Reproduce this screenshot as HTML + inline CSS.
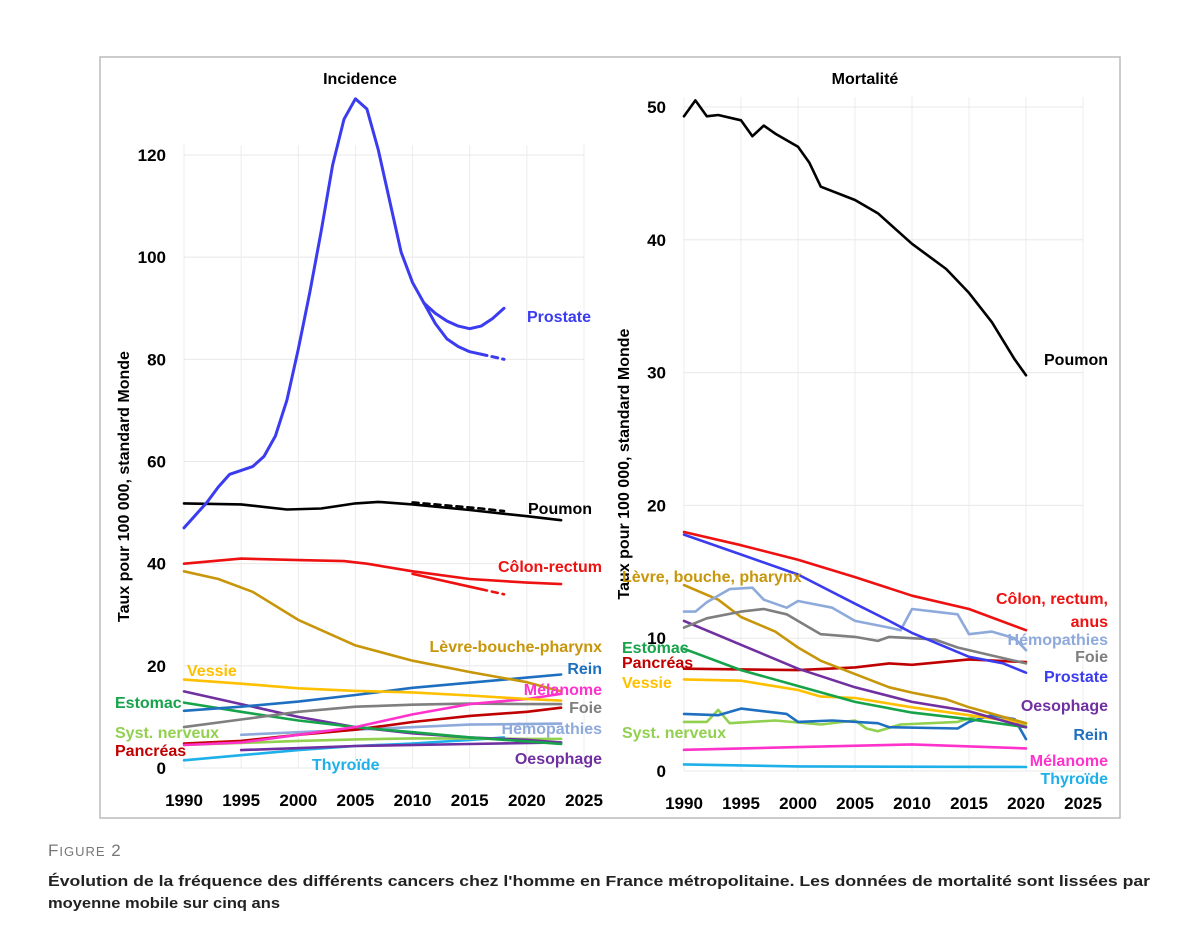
<!DOCTYPE html>
<html><head><meta charset="utf-8"><style>
body{margin:0;background:#fff;}
svg{display:block;font-family:"Liberation Sans",sans-serif;}
</style></head><body>
<svg id="fig" width="1200" height="938" viewBox="0 0 1200 938">
<rect x="100" y="57" width="1020" height="761" fill="#fff" stroke="#bbb" stroke-width="1.5"/>
<g id="left"></g>
<g id="right"></g>
<text x="48" y="856" font-size="17" fill="#777" letter-spacing="1">F<tspan font-size="13">IGURE</tspan> 2</text>
<text x="48" y="886" font-size="15" font-weight="bold" fill="#222" textLength="1102" lengthAdjust="spacingAndGlyphs">Évolution de la fréquence des différents cancers chez l'homme en France métropolitaine. Les données de mortalité sont lissées par</text>
<text x="48" y="908" font-size="15" font-weight="bold" fill="#222" textLength="232" lengthAdjust="spacingAndGlyphs">moyenne mobile sur cinq ans</text>
</svg>
<script>
// ---- Incidence data ----
const incYears = [1990,1992,1993,1994,1996,1997,1998,1999,2000,2001,2002,2003,2004,2005,2006,2007,2008,2009,2010,2011];
const incProstate = [47,52,55,57.5,59,61,65,72,82,93,105,118,127,131,129,121,111,101,95,91];
const incProstateAYears = [2011,2012,2013,2014,2015,2016,2017,2018];
const incProstateA = [91,89,87.5,86.5,86,86.5,88,90];
const incProstateBYears = [2011,2012,2013,2014,2015,2016];
const incProstateB = [91,87,84,82.5,81.5,81];
const incProstateBDashYears = [2016,2018];
const incProstateBDash = [81,80];
const incYears5 = [1990,1995,2000,2005,2010,2015,2020,2023];
const incPoumonYears = [1990,1995,1999,2002,2005,2007,2010,2015,2020,2023];
const incPoumon = [51.8,51.6,50.6,50.8,51.8,52.1,51.6,50.5,49.3,48.5];
const incPoumonDashYears = [2010,2016,2018];
const incPoumonDash = [52,50.8,50.3];
const incColonYears = [1990,1995,2000,2004,2006,2010,2015,2020,2023];
const incColon = [40,41,40.7,40.5,40,38.5,37,36.3,36];
const incColonBYears = [2010,2015,2016];
const incColonB = [38,35.5,35];
const incColonBDashYears = [2016,2018];
const incColonBDash = [35,34];
const incLevreYears = [1990,1993,1996,2000,2005,2010,2015,2020,2023];
const incLevre = [38.5,37,34.5,29,24,21,18.8,16.8,15];
const incVessie = [17.3,16.5,15.6,15.1,14.8,14.2,13.5,13.2];
const incRein = [11.2,12,13,14.3,15.7,16.7,17.7,18.3];
const incMelanome = [4.5,5,6.5,8,10.5,12.5,13.5,14.5];
const incFoie = [8,9.5,11,12,12.4,12.6,12.5,12.5];
const incEstomac = [12.8,11,9.3,8,7,6,5.2,4.7];
const incOesoA = [15,12.5,10,8,6.8,6,5.5,5];
const incOesoBYears = [1995,2005,2015,2023];
const incOesoB = [3.5,4.3,4.7,5.0];
const incSnc = [4.5,4.9,5.3,5.6,5.8,5.8,5.7,5.7];
const incPancreas = [4.8,5.3,6.5,7.5,9,10.2,11,11.8];
const incHemoYears = [1995,2005,2015,2023];
const incHemo = [6.5,7.5,8.5,8.7];
const incThyroYears = [1990,1995,2000,2005,2010,2015,2018];
const incThyro = [1.5,2.5,3.5,4.3,4.8,5.5,6];
const incTicksY = [0,20,40,60,80,100,120];
const ticksX = [1990,1995,2000,2005,2010,2015,2020,2025];
// ---- Mortality data ----
const morPoumonYears = [1990,1991,1992,1993,1995,1996,1997,1998,2000,2001,2002,2005,2007,2010,2013,2015,2017,2019,2020];
const morPoumon = [49.3,50.5,49.3,49.4,49,47.8,48.6,48,47,45.8,44,43,42,39.7,37.8,36,33.8,31,29.8];
const morY5 = [1990,1995,2000,2005,2010,2015,2020];
const morColon = [18,17,15.9,14.6,13.2,12.2,10.6];
const morProstateYears = [1990,1995,2000,2005,2008,2010,2015,2018,2020];
const morProstate = [17.8,16.3,14.8,12.6,11.3,10.4,8.6,8.1,7.4];
const morHemoYears = [1990,1991,1992,1994,1996,1997,1999,2000,2003,2005,2008,2009,2010,2014,2015,2017,2019,2020];
const morHemo = [12,12,12.7,13.7,13.8,12.9,12.3,12.8,12.3,11.3,10.8,10.6,12.2,11.8,10.3,10.5,10,9.1];
const morFoieYears = [1990,1992,1995,1997,1999,2001,2002,2005,2007,2008,2010,2012,2014,2017,2020];
const morFoie = [10.8,11.5,12,12.2,11.8,10.8,10.3,10.1,9.8,10.1,10,9.9,9.3,8.7,8.1];
const morLevreYears = [1990,1993,1995,1998,2000,2002,2005,2008,2010,2013,2015,2020];
const morLevre = [14,12.9,11.6,10.5,9.3,8.3,7.3,6.3,5.9,5.4,4.8,3.6];
const morOeso = [11.3,9.5,7.7,6.3,5.2,4.5,3.3];
const morEstomac = [9.2,7.6,6.4,5.2,4.4,3.9,3.3];
const morPancreasYears = [1990,2000,2005,2008,2010,2015,2020];
const morPancreas = [7.7,7.6,7.8,8.1,8,8.4,8.2];
const morVessieYears = [1990,1995,2000,2002,2005,2010,2015,2020];
const morVessie = [6.9,6.8,6.1,5.6,5.5,4.8,4.2,3.6];
const morReinYears = [1990,1993,1995,1999,2000,2003,2007,2008,2014,2015,2017,2019,2020];
const morRein = [4.3,4.2,4.7,4.3,3.7,3.8,3.6,3.3,3.2,3.7,4.2,3.9,2.4];
const morSncYears = [1990,1992,1993,1994,1998,2002,2005,2006,2007,2009,2014,2016,2020];
const morSnc = [3.7,3.7,4.6,3.6,3.8,3.5,3.8,3.2,3.0,3.5,3.7,4.2,3.4];
const morMelanoYears = [1990,2000,2010,2020];
const morMelano = [1.6,1.8,2.0,1.7];
const morThyroYears = [1990,2000,2020];
const morThyro = [0.5,0.35,0.3];
const morTicksY = [0,10,20,30,40,50];

const NS="http://www.w3.org/2000/svg";
function mk(parent,tag,attrs,txt){const e=document.createElementNS(NS,tag);for(const k in attrs)e.setAttribute(k,attrs[k]);if(txt!==undefined)e.textContent=txt;parent.appendChild(e);return e;}
const C={pro:"#3b3bef",pou:"#000",col:"#ee1111",lev:"#c8960a",ves:"#ffc000",rei:"#1f6fc0",mel:"#ff33cc",foi:"#7f7f7f",est:"#16a34a",oes:"#7030a0",snc:"#92d050",pan:"#c00000",hem:"#8eaadb",thy:"#1eb0e8"};

function makeChart(g,x0px,x1px,y0px,yTopPx,yTopVal,ticksY,title,titleX){
  const xs=v=>x0px+(v-1990)/(2025-1990)*(x1px-x0px);
  const ys=v=>y0px-(v/yTopVal)*(y0px-yTopPx);
  const grid=mk(g,"g",{});
  
  
  ticksX.forEach(t=>{mk(grid,"line",{x1:xs(t),x2:xs(t),y1:ys(ticksY[ticksY.length-1])-10,y2:y0px,stroke:"#ececec","stroke-width":1});});
  ticksY.forEach(t=>{mk(grid,"line",{x1:x0px,x2:x1px,y1:ys(t),y2:ys(t),stroke:"#e8e8e8","stroke-width":1});
    const tl=mk(g,"text",{x:x0px-18,y:ys(t)+6,"text-anchor":"end","font-size":17,"font-weight":"bold"},String(t));
    
    });
  ticksX.forEach(t=>{const tl=mk(g,"text",{x:xs(t),y:y0px+38,"text-anchor":"middle","font-size":17,"font-weight":"bold"},String(t));
    
    });
  const tt=mk(g,"text",{x:titleX,y:84,"text-anchor":"middle","font-size":16,"font-weight":"bold"},title);
  
  
  const yt=mk(g,"text",{transform:`translate(${x0px-55},${(y0px+yTopPx)/2+25}) rotate(-90)`,"text-anchor":"middle","font-size":16,"font-weight":"bold"},"Taux pour 100 000, standard Monde");
  
  
  return {xs,ys};
}
function line(g,ax,years,vals,color,name,dash,w){
  const d=years.map((y,i)=>(i?"L":"M")+ax.xs(y).toFixed(1)+","+ax.ys(vals[i]).toFixed(1)).join("");
  const p=mk(g,"path",{d,fill:"none",stroke:color,"stroke-width":w||2.6,"stroke-linejoin":"round","stroke-linecap":"round"});
  if(dash)p.setAttribute("stroke-dasharray",dash);
  
  
}
function label(g,x,y,txt,color,anchor,name){
  const t=mk(g,"text",{x,y,fill:color,"font-size":16,"font-weight":"bold","text-anchor":anchor||"start"},txt);
  
  
}

const L=document.getElementById("left");
const a=makeChart(L,184,584,768,155,120,incTicksY,"Incidence",360);
line(L,a,incHemoYears,incHemo,C.hem,"incidence-hemopathies-line");
line(L,a,incThyroYears,incThyro,C.thy,"incidence-thyroide-line");
line(L,a,incYears5,incSnc,C.snc,"incidence-snc-line");
line(L,a,incYears5,incPancreas,C.pan,"incidence-pancreas-line");
line(L,a,incOesoBYears,incOesoB,C.oes,"incidence-oesophage-line-b");
line(L,a,incYears5,incOesoA,C.oes,"incidence-oesophage-line");
line(L,a,incYears5,incEstomac,C.est,"incidence-estomac-line");
line(L,a,incYears5,incFoie,C.foi,"incidence-foie-line");
line(L,a,incYears5,incMelanome,C.mel,"incidence-melanome-line");
line(L,a,incYears5,incRein,C.rei,"incidence-rein-line");
line(L,a,incYears5,incVessie,C.ves,"incidence-vessie-line");
line(L,a,incLevreYears,incLevre,C.lev,"incidence-levre-line");
line(L,a,incColonYears,incColon,C.col,"incidence-colon-line");
line(L,a,incColonBYears,incColonB,C.col,"incidence-colon-line-b");
line(L,a,incColonBDashYears,incColonBDash,C.col,"incidence-colon-dashed","6 5");
line(L,a,incPoumonYears,incPoumon,C.pou,"incidence-poumon-line");
line(L,a,incPoumonDashYears,incPoumonDash,C.pou,"incidence-poumon-dashed","6 5");
line(L,a,incYears,incProstate,C.pro,"incidence-prostate-line",null,3);
line(L,a,incProstateAYears,incProstateA,C.pro,"incidence-prostate-line-a",null,3);
line(L,a,incProstateBYears,incProstateB,C.pro,"incidence-prostate-line-b",null,3);
line(L,a,incProstateBDashYears,incProstateBDash,C.pro,"incidence-prostate-dashed","6 5",3);
label(L,527,322,"Prostate",C.pro,"start","label-prostate");
label(L,528,514,"Poumon",C.pou,"start","label-poumon");
label(L,602,572,"Côlon-rectum",C.col,"end","label-colon");
label(L,602,652,"Lèvre-bouche-pharynx",C.lev,"end","label-levre");
label(L,187,676,"Vessie",C.ves,"start","label-vessie");
label(L,602,674,"Rein",C.rei,"end","label-rein");
label(L,602,695,"Mélanome",C.mel,"end","label-melanome");
label(L,115,708,"Estomac",C.est,"start","label-estomac");
label(L,602,713,"Foie",C.foi,"end","label-foie");
label(L,115,738,"Syst. nerveux",C.snc,"start","label-snc");
label(L,602,734,"Hémopathies",C.hem,"end","label-hemopathies");
label(L,115,756,"Pancréas",C.pan,"start","label-pancreas");
label(L,602,764,"Oesophage",C.oes,"end","label-oesophage");
label(L,312,770,"Thyroïde",C.thy,"start","label-thyroide");

const R=document.getElementById("right");
const b=makeChart(R,684,1083,771,107,50,morTicksY,"Mortalité",865);
line(R,b,morThyroYears,morThyro,C.thy,"mortality-thyroide-line");
line(R,b,morMelanoYears,morMelano,C.mel,"mortality-melanome-line");
line(R,b,morSncYears,morSnc,C.snc,"mortality-snc-line");
line(R,b,morReinYears,morRein,C.rei,"mortality-rein-line");
line(R,b,morVessieYears,morVessie,C.ves,"mortality-vessie-line");
line(R,b,morPancreasYears,morPancreas,C.pan,"mortality-pancreas-line");
line(R,b,morY5,morEstomac,C.est,"mortality-estomac-line");
line(R,b,morY5,morOeso,C.oes,"mortality-oesophage-line");
line(R,b,morLevreYears,morLevre,C.lev,"mortality-levre-line");
line(R,b,morFoieYears,morFoie,C.foi,"mortality-foie-line");
line(R,b,morHemoYears,morHemo,C.hem,"mortality-hemopathies-line");
line(R,b,morProstateYears,morProstate,C.pro,"mortality-prostate-line");
line(R,b,morY5,morColon,C.col,"mortality-colon-line");
line(R,b,morPoumonYears,morPoumon,C.pou,"mortality-poumon-line");
label(R,1108,365,"Poumon",C.pou,"end","m-label-poumon");
label(R,622,582,"Lèvre, bouche, pharynx",C.lev,"start","m-label-levre");
label(R,1108,604,"Côlon, rectum,",C.col,"end","m-label-colon-1");
label(R,1108,627,"anus",C.col,"end","m-label-colon-2");
label(R,1108,645,"Hémopathies",C.hem,"end","m-label-hemopathies");
label(R,622,653,"Estomac",C.est,"start","m-label-estomac");
label(R,1108,662,"Foie",C.foi,"end","m-label-foie");
label(R,622,668,"Pancréas",C.pan,"start","m-label-pancreas");
label(R,1108,682,"Prostate",C.pro,"end","m-label-prostate");
label(R,622,688,"Vessie",C.ves,"start","m-label-vessie");
label(R,1108,711,"Oesophage",C.oes,"end","m-label-oesophage");
label(R,622,738,"Syst. nerveux",C.snc,"start","m-label-snc");
label(R,1108,740,"Rein",C.rei,"end","m-label-rein");
label(R,1108,766,"Mélanome",C.mel,"end","m-label-melanome");
label(R,1108,784,"Thyroïde",C.thy,"end","m-label-thyroide");
</script>
</body></html>
